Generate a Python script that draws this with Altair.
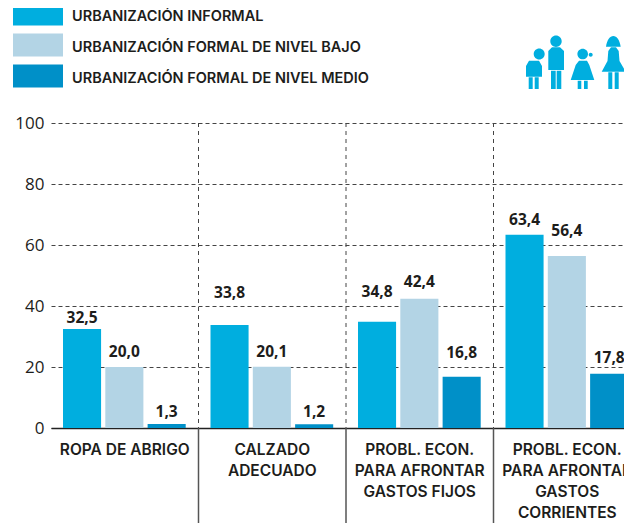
import altair as alt
import pandas as pd

categories = ["ROPA DE ABRIGO", "CALZADO|ADECUADO", "PROBL. ECON.|PARA AFRONTAR|GASTOS FIJOS", "PROBL. ECON.|PARA AFRONTAR|GASTOS|CORRIENTES"]
series = ["URBANIZACIÓN INFORMAL", "URBANIZACIÓN FORMAL DE NIVEL BAJO", "URBANIZACIÓN FORMAL DE NIVEL MEDIO"]
colors = ["#00AEDF", "#B3D4E5", "#0090C8"]
informal = [32.5, 33.8, 34.8, 63.4]
bajo = [20.0, 20.1, 42.4, 56.4]
medio = [1.3, 1.2, 16.8, 17.8]
label_informal = [36.0, 44.3, 44.6, 68.2]
label_bajo = [25.0, 25.0, 47.9, 64.6]
label_medio = [5.2, 5.2, 24.6, 23.0]

FONT = "Open Sans"
CAPS = "Inter"
DARK = "#1d1d1b"

rows = []
for s, vals, labs in zip(series, [informal, bajo, medio], [label_informal, label_bajo, label_medio]):
    for c, v, l in zip(categories, vals, labs):
        rows.append({"cat": c, "serie": s, "valor": v, "pos": l, "texto": f"{v:.1f}".replace(".", ",")})
df = pd.DataFrame(rows)
seps = pd.DataFrame({"cat": categories[:3], "top": [100] * 3, "bottom": [0] * 3})

x_scale = alt.Scale(domain=categories, paddingInner=0, paddingOuter=0)
off_scale = alt.Scale(domain=series, range=[12, 134.7], paddingInner=0.1, paddingOuter=0)
y_scale = alt.Scale(domain=[0, 100], nice=False)

x_enc = alt.X("cat:N", sort=categories, scale=x_scale, title=None, axis=alt.Axis(
    labelExpr="split(datum.label, '|')", labelAngle=0, labelAlign="center", labelFont=CAPS, labelFontSize=15.5, labelFontWeight=600,
    labelColor=DARK, labelPadding=14, labelLineHeight=21, labelOverlap=False, labelFlush=False, labelBound=False,
    labelBaseline="top", ticks=False, domainColor="#222222", domainWidth=1.5, grid=False))

grid = alt.Chart(df).mark_rule(opacity=0).encode(
    y=alt.Y("valor:Q", scale=y_scale, title=None, axis=alt.Axis(
        values=[0, 20, 40, 60, 80, 100], labelFont=FONT, labelFontSize=17, labelColor=DARK, labelPadding=7,
        ticks=False, domain=False, grid=True, gridColor="#444444", gridDash=[4, 3], gridWidth=1)))

bars = alt.Chart(df).mark_bar().encode(
    x=x_enc,
    xOffset=alt.XOffset("serie:N", sort=series, scale=off_scale),
    y=alt.Y("valor:Q", scale=y_scale),
    color=alt.Color("serie:N", sort=series, scale=alt.Scale(domain=series, range=colors), legend=alt.Legend(
        orient="none", legendX=-25.5, legendY=-119, title=None, symbolType="M-2,-1.12H2V0.72H-2Z", symbolSize=625,
        symbolStrokeWidth=0, rowPadding=7, labelOffset=21.5, labelFont=CAPS, labelFontSize=14.5, labelFontWeight=600,
        labelColor=DARK, labelLimit=400, padding=0)))

values = alt.Chart(df).mark_text(font=FONT, fontSize=15.5, fontWeight=700, color=DARK, baseline="middle").encode(
    x=alt.X("cat:N", sort=categories, scale=x_scale),
    xOffset=alt.XOffset("serie:N", sort=series, scale=off_scale),
    y=alt.Y("pos:Q", scale=y_scale),
    text="texto:N")

dashed = alt.Chart(seps).mark_rule(color="#444444", strokeDash=[4, 4], strokeWidth=1).encode(
    x=alt.X("cat:N", sort=categories, scale=x_scale, bandPosition=1),
    y=alt.Y("top:Q", scale=y_scale), y2="bottom:Q")
solid = alt.Chart(seps).mark_rule(color="#555555", strokeWidth=1.5).encode(
    x=alt.X("cat:N", sort=categories, scale=x_scale, bandPosition=1),
    y=alt.value(305), y2=alt.value(400))

icon_path = (
    "M-36.3,-8a5.5,5.5 0 1,0 11,0a5.5,5.5 0 1,0 -11,0Z"
    "M-44,4H-28V14.7H-44Z M-41.3,15.3H-37.3V27H-41.3Z M-35.3,15.3H-31.3V27H-35.3Z"
    "M-41,-1.3H-31L-28,4H-44Z"
    "M-19.7,-20.7a5.7,5.7 0 1,0 11.4,0a5.7,5.7 0 1,0 -11.4,0Z"
    "M-21.7,-11L-18,-14.7H-10L-6,-11V8H-21.7Z M-19,8.7H-14.3V27H-19Z M-13.3,8.7H-8.7V27H-13.3Z"
    "M7.4,-8a5.3,5.3 0 1,0 10.6,0a5.3,5.3 0 1,0 -10.6,0Z"
    "M18.7,-7.3a2,2 0 1,0 4,0a2,2 0 1,0 -4,0Z"
    "M9,-1.3H17L19.3,3L24.3,18H0.7L5.7,3Z M7.7,18.7H11.3V27H7.7Z M14,18.7H17.7V27H14Z"
    "M36,-15.3C37,-22 40,-26 43.3,-26C46.7,-26 49.7,-22 50.7,-15.3Z"
    "M38.3,-11L41,-14.7H46L48.7,-11L49.5,-1L55.7,9.7H31.7L37.5,-1Z M38.3,10.3H42.3V27H38.3Z M44.7,10.3H48.7V27H44.7Z"
)
icon = alt.Chart(pd.DataFrame({"icono": ["familia"]})).mark_point(
    shape=icon_path, size=4, filled=True, opacity=1, color="#00AEDF", strokeWidth=0
).encode(x=alt.value(519), y=alt.value(-61))

chart = alt.layer(grid, dashed, solid, bars, values, icon).properties(
    width=590, height=305, padding={"left": 43, "top": 115, "right": -17, "bottom": 95},
    autosize=alt.AutoSizeParams(type="none"),
    background="white",
).configure_view(stroke=None)

chart.save("out.html", embed_options={"renderer": "svg", "actions": False})
